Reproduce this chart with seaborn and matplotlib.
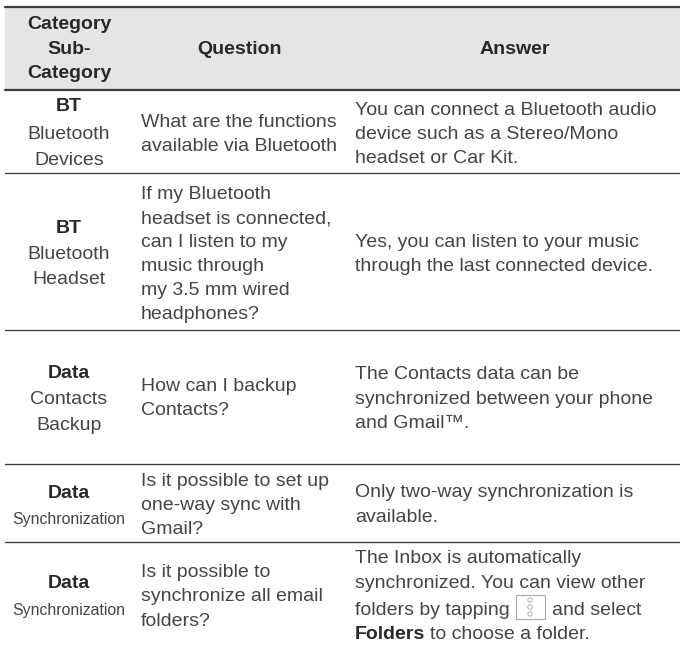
import matplotlib
matplotlib.use('Agg')
import matplotlib.pyplot as plt
import seaborn as sns
from matplotlib import font_manager
from matplotlib.patches import Rectangle, Circle

sns.set_theme(style='white')
plt.rcParams['font.family'] = ['Liberation Sans', 'DejaVu Sans']

# table text
headers = ['Question', 'Answer']
header_category = ['Category', 'Sub-', 'Category']
categories = ['BT', 'BT', 'Data', 'Data', 'Data']
sub_categories = [
    ['Bluetooth', 'Devices'],
    ['Bluetooth', 'Headset'],
    ['Contacts', 'Backup'],
    ['Synchronization'],
    ['Synchronization'],
]
questions = [
    ['What are the functions', 'available via Bluetooth'],
    ['If my Bluetooth', 'headset is connected,', 'can I listen to my', 'music through',
     'my 3.5 mm wired', 'headphones?'],
    ['How can I backup', 'Contacts?'],
    ['Is it possible to set up', 'one-way sync with', 'Gmail?'],
    ['Is it possible to', 'synchronize all email', 'folders?'],
]
answers = [
    ['You can connect a Bluetooth audio', 'device such as a Stereo/Mono', 'headset or Car Kit.'],
    ['Yes, you can listen to your music', 'through the last connected device.'],
    ['The Contacts data can be', 'synchronized between your phone', 'and Gmail™.'],
    ['Only two-way synchronization is', 'available.'],
    ['The Inbox is automatically', 'synchronized. You can view other', 'folders by tapping'],
]

# layout, in pixels of the page
W, H = 680, 645
X_CAT, X_Q, X_A = 69, 141, 355
rules = [(6.5, 2.2), (89.8, 2.2), (173, 1.3), (330.3, 1.3), (463.7, 1.3), (541.7, 1.3)]
header_cat_y = [23, 48.5, 72.5]
cat_y = [[105, 133, 159], [227, 253, 278], [372, 398, 424], [492, 518], [582, 609]]
q_y = [[121, 145], [193, 217, 241, 265, 289, 313], [385, 409], [480, 504, 528], [571, 595, 620]]
a_y = [[109, 133, 157], [241, 265], [373, 398, 422], [491, 516], [557, 582, 609]]

BODY = '#454545'
DARK = '#2b2829'
FS = 14
BASE = 6

# the long sub-category is set condensed in the original
installed = {f.name for f in font_manager.fontManager.ttflist}
has_narrow = 'Liberation Sans Narrow' in installed


def put(ax, x, y, s, ha='left', weight='normal', color=BODY, size=FS, family=None):
    return ax.text(x, y + BASE, s, ha=ha, va='baseline', fontweight=weight, color=color,
                   fontsize=size, family=family)


fig = plt.figure(figsize=(W / 100, H / 100), dpi=100)
ax = fig.add_axes([0, 0, 1, 1])
ax.set_xlim(0, W)
ax.set_ylim(H, 0)
ax.set_axis_off()

ax.add_patch(Rectangle((5, 6.5), W - 5, 83.3, color='#e3e5e7', lw=0, zorder=0))
for y, lw in rules:
    lw_pt = lw * 72 / 100
    sns.lineplot(x=[5, W], y=[y, y], ax=ax, color='#3c3c3c', linewidth=lw_pt, sort=False)

for s, y in zip(header_category, header_cat_y):
    put(ax, X_CAT, y, s, ha='center', weight='bold', color=DARK)
put(ax, 240, 48, headers[0], ha='center', weight='bold', color=DARK)
put(ax, 515, 48, headers[1], ha='center', weight='bold', color=DARK)

for i in range(5):
    put(ax, X_CAT, cat_y[i][0], categories[i], ha='center', weight='bold', color=DARK)
    for s, y in zip(sub_categories[i], cat_y[i][1:]):
        if s.startswith('Synch'):
            if has_narrow:
                put(ax, X_CAT, y, s, ha='center', size=13.6, family='Liberation Sans Narrow')
            else:
                put(ax, X_CAT, y, s, ha='center', size=11.4)
        else:
            put(ax, X_CAT, y, s, ha='center')
    for s, y in zip(questions[i], q_y[i]):
        put(ax, X_Q, y, s)
    for s, y in zip(answers[i], a_y[i]):
        put(ax, X_A, y, s)

# last answer: icon and bold word inside the running text
put(ax, 552, 609, 'and select')
put(ax, 355, 633, 'Folders', weight='bold', color=DARK)
put(ax, 430, 633, 'to choose a folder.')
ax.add_patch(Rectangle((515.5, 595), 29.5, 24, fill=False, ec='#a8a8a8', lw=0.8))
for cy in [600, 607, 614]:
    ax.add_patch(Circle((530, cy), 2.2, fill=False, ec='#b0b0b0', lw=0.7))

fig.savefig('out.png', dpi=100)
